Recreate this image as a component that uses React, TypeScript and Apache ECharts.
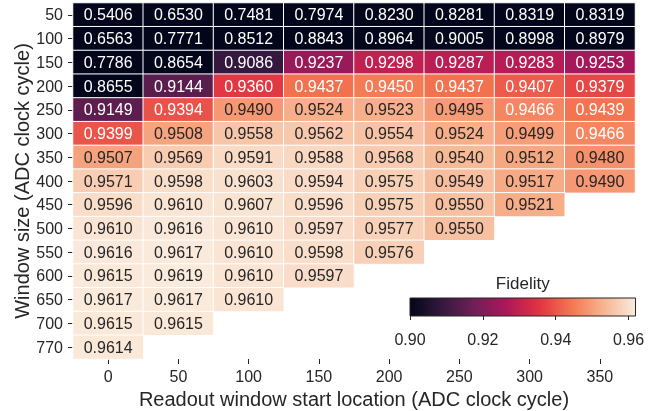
import React, { useEffect, useRef } from "react";
import * as echarts from "echarts";

const xCats = ["0", "50", "100", "150", "200", "250", "300", "350"];
const yCats = ["50", "100", "150", "200", "250", "300", "350", "400", "450", "500", "550", "600", "650", "700", "770"];

const r50 = [0.5406, 0.653, 0.7481, 0.7974, 0.823, 0.8281, 0.8319, 0.8319];
const r100 = [0.6563, 0.7771, 0.8512, 0.8843, 0.8964, 0.9005, 0.8998, 0.8979];
const r150 = [0.7786, 0.8654, 0.9086, 0.9237, 0.9298, 0.9287, 0.9283, 0.9253];
const r200 = [0.8655, 0.9144, 0.936, 0.9437, 0.945, 0.9437, 0.9407, 0.9379];
const r250 = [0.9149, 0.9394, 0.949, 0.9524, 0.9523, 0.9495, 0.9466, 0.9439];
const r300 = [0.9399, 0.9508, 0.9558, 0.9562, 0.9554, 0.9524, 0.9499, 0.9466];
const r350 = [0.9507, 0.9569, 0.9591, 0.9588, 0.9568, 0.954, 0.9512, 0.948];
const r400 = [0.9571, 0.9598, 0.9603, 0.9594, 0.9575, 0.9549, 0.9517, 0.949];
const r450 = [0.9596, 0.961, 0.9607, 0.9596, 0.9575, 0.955, 0.9521];
const r500 = [0.961, 0.9616, 0.961, 0.9597, 0.9577, 0.955];
const r550 = [0.9616, 0.9617, 0.961, 0.9598, 0.9576];
const r600 = [0.9615, 0.9619, 0.961, 0.9597];
const r650 = [0.9617, 0.9617, 0.961];
const r700 = [0.9615, 0.9615];
const r770 = [0.9614];

const rows = [r50, r100, r150, r200, r250, r300, r350, r400, r450, r500, r550, r600, r650, r700, r770];

const colorbarTicks = [0.9, 0.92, 0.94, 0.96];
const vMin = 0.9;
const vMax = 0.9619;

const rocket = ["#03051a", "#35193e", "#701f57", "#ad1759", "#e13342", "#f37651", "#f6b48f", "#faebdd"];

function hexToRgb(h: string) {
  return [parseInt(h.slice(1, 3), 16), parseInt(h.slice(3, 5), 16), parseInt(h.slice(5, 7), 16)];
}

function rocketAt(v: number) {
  let t = (v - vMin) / (vMax - vMin);
  t = Math.max(0, Math.min(1, t));
  const n = rocket.length - 1;
  const i = Math.min(n - 1, Math.floor(t * n));
  const f = t * n - i;
  const a = hexToRgb(rocket[i]);
  const b = hexToRgb(rocket[i + 1]);
  return a.map((c, k) => c + (b[k] - c) * f);
}

function textColor(v: number) {
  const rgb = rocketAt(v).map((c) => {
    const s = c / 255;
    return s <= 0.03928 ? s / 12.92 : Math.pow((s + 0.055) / 1.055, 2.4);
  });
  const lum = 0.2126 * rgb[0] + 0.7152 * rgb[1] + 0.0722 * rgb[2];
  return lum > 0.385 ? "#262626" : "#ffffff";
}

const FONT = "'Liberation Sans', Arial, sans-serif";

export default function App() {
  const ref = useRef<HTMLDivElement>(null);
  useEffect(() => {
    if (!ref.current) return;
    const chart = echarts.init(ref.current, null, { renderer: "svg" });
    const data: any[] = [];
    rows.forEach((row, yi) => {
      row.forEach((v, xi) => {
        data.push({ value: [xi, yi, v], label: { color: textColor(v) } });
      });
    });
    const gLeft = 73;
    const gTop = 3;
    const gW = 562;
    const gH = 356;
    const cbLeft = 410;
    const cbTop = 298;
    const cbW = 225.5;
    const cbH = 18;
    chart.setOption({
      animation: false,
      textStyle: { fontFamily: FONT },
      grid: [
        { left: gLeft, top: gTop, width: gW, height: gH, outerBoundsMode: "none", containLabel: false },
        { left: cbLeft, top: cbTop, width: cbW, height: cbH, outerBoundsMode: "none", containLabel: false },
      ],
      xAxis: [
        {
          type: "category",
          data: xCats,
          gridIndex: 0,
          position: "bottom",
          axisLine: { show: false },
          axisTick: { show: true, alignWithLabel: true, length: 5, lineStyle: { color: "#262626" } },
          axisLabel: { fontSize: 16, color: "#262626", margin: 9, fontFamily: FONT },
          splitLine: { show: false },
          name: "Readout window start location (ADC clock cycle)",
          nameLocation: "middle",
          nameGap: 30,
          nameTextStyle: { fontSize: 20, color: "#262626", fontFamily: FONT },
        },
        {
          type: "value",
          gridIndex: 1,
          min: vMin,
          max: vMax,
          axisLine: { show: false },
          splitLine: { show: false },
          axisTick: { show: true, length: 4, customValues: colorbarTicks, lineStyle: { color: "#262626" } },
          axisLabel: {
            fontSize: 16,
            color: "#262626",
            margin: 15,
            customValues: colorbarTicks,
            formatter: (v: number) => v.toFixed(2),
            fontFamily: FONT,
          },
        },
      ],
      yAxis: [
        {
          type: "category",
          data: yCats,
          inverse: true,
          gridIndex: 0,
          axisLine: { show: false },
          axisTick: { show: true, alignWithLabel: true, length: 5, lineStyle: { color: "#262626" } },
          axisLabel: { fontSize: 16, color: "#262626", margin: 10, fontFamily: FONT },
          splitLine: { show: false },
          name: "Window size (ADC clock cycle)",
          nameLocation: "middle",
          nameGap: 41,
          nameRotate: 90,
          nameMoveOverlap: false,
          nameTextStyle: { fontSize: 20, color: "#262626", fontFamily: FONT },
        },
        { type: "value", gridIndex: 1, show: false, min: 0, max: 1 },
      ],
      visualMap: {
        show: false,
        type: "continuous",
        min: vMin,
        max: vMax,
        dimension: 2,
        seriesIndex: 0,
        inRange: { color: rocket },
      },
      graphic: [
        {
          type: "rect",
          shape: { x: cbLeft, y: cbTop, width: cbW, height: cbH },
          style: {
            fill: new echarts.graphic.LinearGradient(
              0,
              0,
              1,
              0,
              rocket.map((c, i) => ({ offset: i / (rocket.length - 1), color: c }))
            ),
            stroke: "#262626",
            lineWidth: 1,
          },
          z: 10,
        },
        {
          type: "text",
          x: cbLeft + cbW / 2,
          y: cbTop - 15,
          style: {
            text: "Fidelity",
            fontSize: 17,
            fill: "#262626",
            fontFamily: FONT,
            textAlign: "center",
            textVerticalAlign: "middle",
          },
          z: 10,
        },
      ],
      series: [
        {
          type: "heatmap",
          xAxisIndex: 0,
          yAxisIndex: 0,
          data,
          label: {
            show: true,
            fontSize: 16,
            fontFamily: FONT,
            formatter: (p: any) => p.value[2].toFixed(4),
          },
          itemStyle: { borderColor: "#ffffff", borderWidth: 1 },
          emphasis: { disabled: true },
        },
      ],
    });
    return () => chart.dispose();
  }, []);
  return (
    <div
      ref={ref}
      style={{ position: "fixed", left: 0, top: 0, width: 653, height: 411 }}
    />
  );
}
